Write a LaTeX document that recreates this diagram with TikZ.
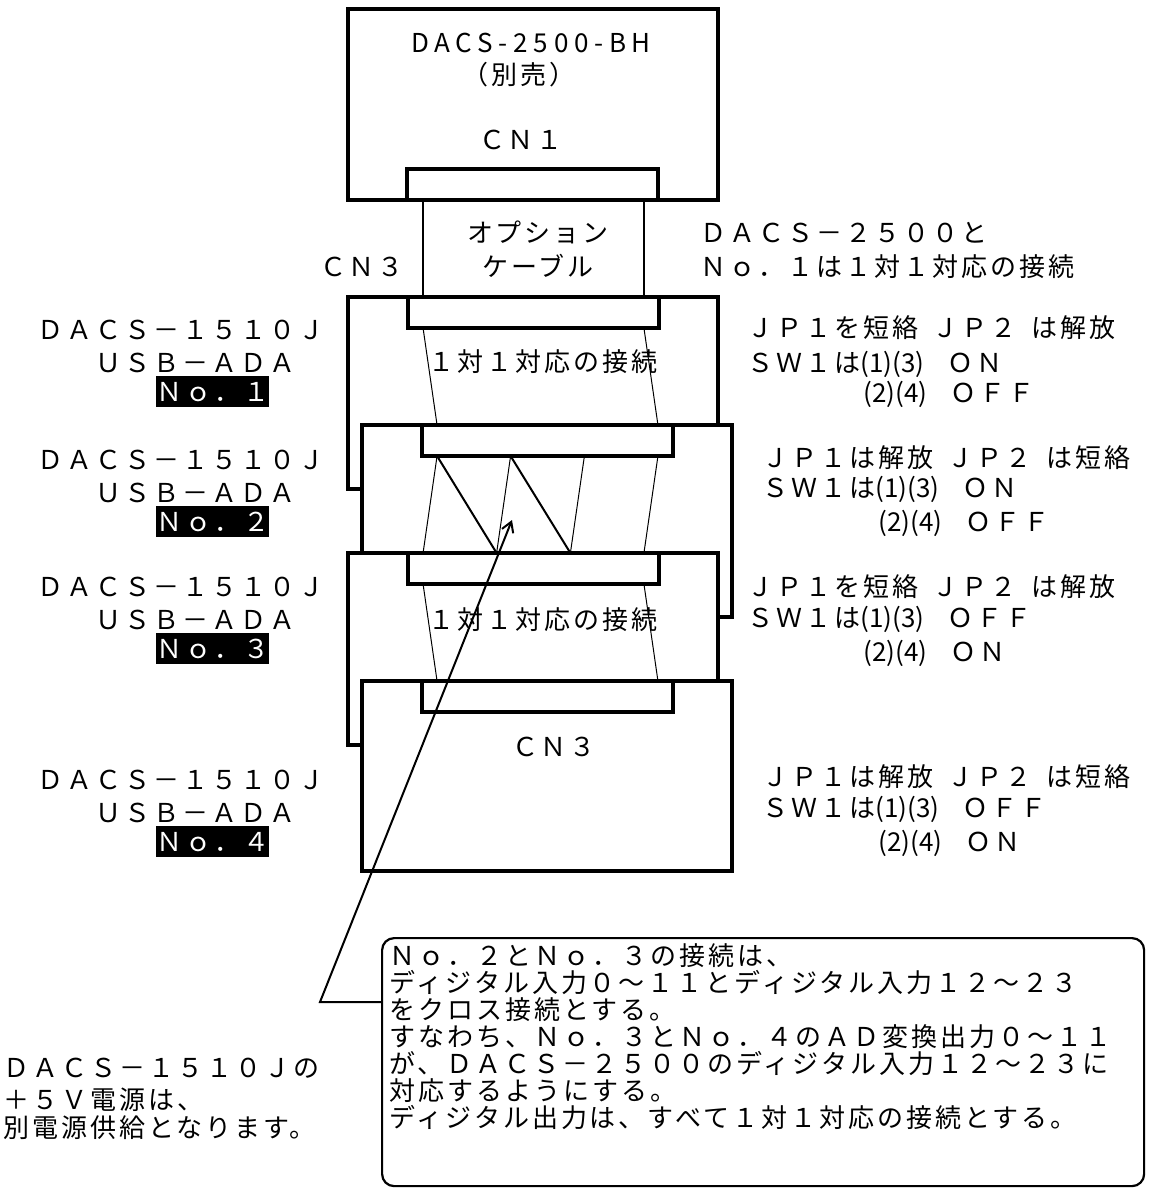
\documentclass[tikz,border=0pt]{standalone}
\usepackage{fontspec}
\setmainfont{Noto Sans CJK JP}[LetterSpace=11.5]
\newfontfamily\titlefont[LetterSpace=22]{Noto Sans CJK JP}
\newfontfamily\pinfont{Noto Sans CJK JP}
\usetikzlibrary{positioning, calc, arrows.meta}
\newcommand{\pins}[2]{\makebox[43.5pt][l]{\pinfont(#1)(#2)}}
\newcommand{\hsp}{\hspace{7.25pt}}

\tikzset{
	board/.style={line width=2.2pt},
	jack/.style={draw, line width=2pt, inner sep=0pt, outer sep=0pt, anchor=north west,
		minimum width=125.5pt, minimum height=15.5pt},
	wire/.style={line width=0.5pt},
	cross/.style={line width=1pt},
	lbl/.style={anchor=west, inner sep=0pt, text height=11.4pt, text depth=1.6pt},
	ctr/.style={inner sep=0pt, text height=11.4pt, text depth=1.6pt},
	unitno/.style={lbl, fill=black, text=white, minimum height=15.5pt},
}

\begin{document}
\begin{tikzpicture}[x=0.5pt, y=-0.5pt, every node/.style={font=\fontsize{13}{15}\selectfont}]
	\useasboundingbox (0,0) rectangle (1148,1189);
	
	%% DACS-2500-BH
	\draw[board] (348,9) rectangle (718,200);
	\node[jack] (jack0) at (407,169) {};
	\node[ctr, font=\titlefont\fontsize{13}{15}\selectfont] (title) at (531,43) {DACS-2500-BH};
	\node[ctr] (sold) at (519,75) {（別売）};
	\node[ctr] (cn1) at (521,140) {ＣＮ１};
	
	%% cable
	\draw[line width=0.7pt] (423,200) rectangle (644,297);
	\node[ctr] (opt) at (538,233) {オプション};
	\node[ctr] (cab) at (538,267) {ケーブル};
	\node[ctr] (cn3a) at (362,267) {ＣＮ３};
	\node[lbl] (rel1) at (700,233) {ＤＡＣＳ－２５００と};
	\node[lbl] (rel2) at (700,267) {Ｎｏ．１は１対１対応の接続};
	
	%% boards No.1 - No.4
	\draw[board] (362,489) -| (348,297) -| (718,425);
	\draw[board] (362,553) |- (732,425) |- (718,617);
	\draw[board] (362,745) -| (348,553) -| (718,681);
	\draw[board] (362,681) rectangle (732,871);
	
	\node[jack] (jack1) at (408,297) {};
	\node[jack] (jack2) at (422,425) {};
	\node[jack] (jack3) at (408,553) {};
	\node[jack] (jack4) at (422,681) {};
	
	\node[ctr] (one1) at (543,362) {１対１対応の接続};
	\node[ctr] (one3) at (543,620) {１対１対応の接続};
	\node[ctr] (cn3b) at (554,747) {ＣＮ３};
	
	%% wires
	\foreach \j in {jack1,jack2,jack3,jack4}
		\foreach \k/\f in {1/0.06, 2/0.353, 3/0.647, 4/0.94} {
			\coordinate (\j t\k) at ($(\j.north west)!\f!(\j.north east)$);
			\coordinate (\j b\k) at ($(\j.south west)!\f!(\j.south east)$);
		}
	\draw[wire] (jack1b1) -- (jack2t1) (jack1b4) -- (jack2t4);
	\draw[wire] (jack2b1) -- (jack3t1) (jack2b2) -- (jack3t2)
		(jack2b3) -- (jack3t3) (jack2b4) -- (jack3t4);
	\draw[cross] (jack2b1) -- (jack3t2) (jack2b2) -- (jack3t3);
	\draw[wire] (jack3b1) -- (jack4t1) (jack3b4) -- (jack4t4);
	
	%% left labels
	\foreach \n/\y/\fw in {1/330/１, 2/460/２, 3/587/３, 4/780/４} {
		\node[lbl] (dacs\n) at (37,\y) {ＤＡＣＳ－１５１０Ｊ};
		\node[lbl] (usb\n) at (95,\y+33) {ＵＳＢ－ＡＤＡ};
		\node[unitno] (no\n) at (156,\y+61.5) {Ｎｏ．\fw};
	}
	
	%% jumper / switch settings
	\node[lbl] (set1a) at (747,328) {ＪＰ１を短絡\hsp ＪＰ２\hsp は解放};
	\node[lbl] (set1b) at (747,363) {ＳＷ１は\pins13ＯＮ};
	\node[lbl] (set1c) at (863,393) {\pins24ＯＦＦ};
	
	\node[lbl] (set2a) at (762,458) {ＪＰ１は解放\hsp ＪＰ２\hsp は短絡};
	\node[lbl] (set2b) at (762,488) {ＳＷ１は\pins13ＯＮ};
	\node[lbl] (set2c) at (878,522) {\pins24ＯＦＦ};
	
	\node[lbl] (set3a) at (747,587) {ＪＰ１を短絡\hsp ＪＰ２\hsp は解放};
	\node[lbl] (set3b) at (747,618) {ＳＷ１は\pins13ＯＦＦ};
	\node[lbl] (set3c) at (863,652) {\pins24ＯＮ};
	
	\node[lbl] (set4a) at (762,777) {ＪＰ１は解放\hsp ＪＰ２\hsp は短絡};
	\node[lbl] (set4b) at (762,808) {ＳＷ１は\pins13ＯＦＦ};
	\node[lbl] (set4c) at (878,842) {\pins24ＯＮ};
	
	%% power note
	\node[lbl] (pwr1) at (3,1068) {ＤＡＣＳ－１５１０Ｊの};
	\node[lbl] (pwr2) at (3,1100) {＋５Ｖ電源は、};
	\node[lbl] (pwr3) at (3,1128) {別電源供給となります。};
	
	%% callout
	\node[draw, rounded corners=6pt, line width=1.1pt, anchor=north west, inner sep=0pt,
		minimum width=381pt, minimum height=124pt] (note) at (381,937) {};
	\foreach \t [count=\i from 0] in {Ｎｏ．２とＮｏ．３の接続は、,
		ディジタル入力０～１１とディジタル入力１２～２３,
		をクロス接続とする。,
		すなわち、Ｎｏ．３とＮｏ．４のＡＤ変換出力０～１１,
		が、ＤＡＣＳ－２５００のディジタル入力１２～２３に,
		対応するようにする。,
		ディジタル出力は、すべて１対１対応の接続とする。}
		\node[lbl] at (389,956+27*\i) {\t};
	
	\coordinate (tip) at (512,520);
	\coordinate (bend) at (320,1002);
	\draw[line width=1pt, -{Straight Barb[length=5pt, width=6pt]}]
		(note.west |- bend) -- (bend) -- (tip);
\end{tikzpicture}
\end{document}
